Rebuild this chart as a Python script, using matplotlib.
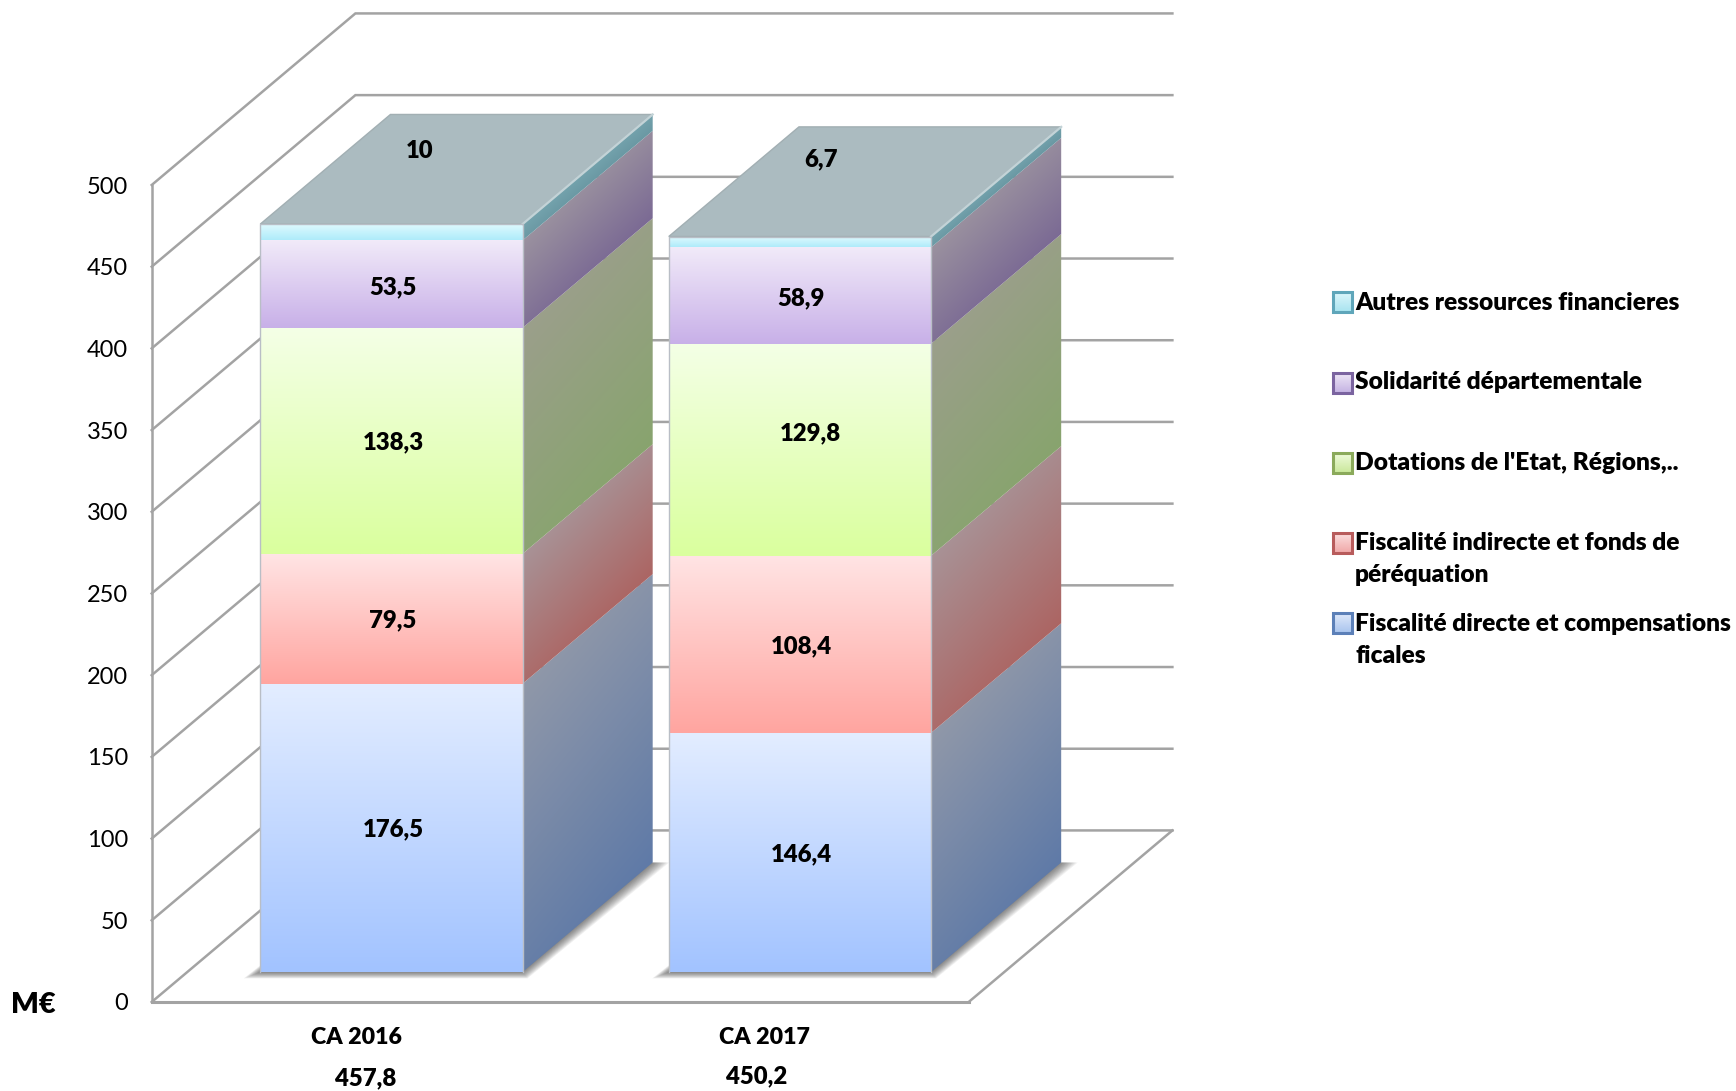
import numpy as np
import matplotlib
matplotlib.use('Agg')
import matplotlib.pyplot as plt
from matplotlib.colors import to_rgb
from matplotlib.patches import Polygon, Rectangle
from matplotlib.transforms import Affine2D

plt.rcParams['font.family'] = ['Lato', 'DejaVu Sans']

# data
categories = ['CA 2016', 'CA 2017']
totals = ['457,8', '450,2']
fiscal_directe = [176.5, 146.4]
fiscal_indirecte = [79.5, 108.4]
dotations = [138.3, 129.8]
solidarite = [53.5, 58.9]
autres = [10, 6.7]
yticks = [0, 50, 100, 150, 200, 250, 300, 350, 400, 450, 500]
legend_labels = ['Autres ressources financieres', 'Solidarité départementale',
                 "Dotations de l'Etat, Régions,..",
                 'Fiscalité indirecte et fonds de\npéréquation',
                 'Fiscalité directe et compensations\nficales']

# front light, front strong, side light, side strong
blue = ['#E3EDFF', '#A2C3FF', '#9098A9', '#5F7AA7']
red = ['#FFE4E4', '#FFA5A0', '#A89296', '#AC6563']
green = ['#F4FFE6', '#DAFF9E', '#9B9F8B', '#88A46E']
purple = ['#F1EAF9', '#C8B0E8', '#9A919F', '#7B6A94']
cyan = ['#E2FBFF', '#AEEBFA', '#74A3AD', '#6A98A3']
series = [fiscal_directe, fiscal_indirecte, dotations, solidarite, autres]
colors = [blue, red, green, purple, cyan]
legend_edges = ['#5FA6BA', '#7B64A0', '#8BAA5B', '#B85C5C', '#5C80B8']
legend_fill = [('#DDF6FB', '#A8E4F0'), ('#EDE6F6', '#C4B2E2'), ('#EFFADB', '#C9E89A'),
               ('#FBDEDE', '#F0A8A8'), ('#DFE9FA', '#A9C4EE')]

W, H = 1736, 1091
x0, y0, ytop = 151.7, 1002, 13
px_per_unit = 1.634
floor_w = 817
depth_x = 203.7
depth_v = 105.0
slot = floor_w / 2
bar_w = 0.642 * slot
d_front, d_back = 0.174, 0.813

fig = plt.figure(figsize=(W / 100, H / 100), dpi=100)
ax = fig.add_axes([x0 / W, (H - y0) / H, (1172 - x0) / W, (y0 - ytop) / H])
ax.patch.set_visible(False)
pix = Affine2D().scale(1, -1).translate(0, H)
grid_col = '#A3A3A3'
bold = 800


def pt(x, v, d):
    return (x + d * depth_x, v + d * depth_v)


def gradient(c1, c2, t):
    c1, c2 = np.array(to_rgb(c1)), np.array(to_rgb(c2))
    return c1 + (c2 - c1) * t[..., None]


def fill_image(poly, img, zorder):
    poly = np.array(poly)
    im = ax.imshow(img, extent=(poly[:, 0].min(), poly[:, 0].max(), poly[:, 1].min(), poly[:, 1].max()),
                   origin='upper', aspect='auto', interpolation='bilinear', zorder=zorder)
    im.set_clip_path(Polygon(poly, closed=True, transform=ax.transData))
    im.set_clip_on(True)


# walls and floor
for v in yticks:
    a, b, c = pt(0, v, 0), pt(0, v, 1), pt(floor_w, v, 1)
    ax.plot([a[0], b[0], c[0]], [a[1], b[1], c[1]], color=grid_col, lw=1.8, clip_on=False, zorder=1,
            solid_joinstyle='miter')
a, b = pt(floor_w, 0, 0), pt(floor_w, 0, 1)
ax.plot([a[0], b[0]], [a[1], b[1]], color=grid_col, lw=1.8, clip_on=False, zorder=1)

# bars
for i, cat in enumerate(categories):
    left = (i + 0.179) * slot
    right = left + bar_w

    # soft shadow under the bar
    for k in range(12):
        g = 1.5 * k
        foot = [pt(left - g, -g * 0.38 / px_per_unit, d_front),
                pt(right + g * 0.3, -g * 0.38 / px_per_unit, d_front),
                pt(right + g, 0, d_back), pt(left, 0, d_back)]
        ax.add_patch(Polygon(foot, closed=True, fc='#303030', ec='none', alpha=0.065, zorder=2, clip_on=False))

    base = 0
    for vals, col in zip(series, colors):
        top = base + vals[i]
        # side face, shaded across the band
        side = [pt(right, base, d_front), pt(right, base, d_back), pt(right, top, d_back), pt(right, top, d_front)]
        side_arr = np.array(side)
        u, vv = np.meshgrid(np.linspace(0, 1, 120),
                            np.linspace(side_arr[:, 1].max(), side_arr[:, 1].min(), 200))
        local = (vv - side_arr[0, 1] - u * (d_back - d_front) * depth_v) / (top - base)
        fill_image(side, gradient(col[2], col[3], np.clip(0.85 * (1 - local) + 0.15 * u, 0, 1)), 3)
        # front face
        front = [pt(left, base, d_front), pt(right, base, d_front), pt(right, top, d_front), pt(left, top, d_front)]
        fill_image(front, gradient(col[0], col[1], np.linspace(0, 1, 80).reshape(-1, 1)), 4)
        base = top

    # top of the stack
    roof = [pt(left, base, d_front), pt(right, base, d_front), pt(right, base, d_back), pt(left, base, d_back)]
    ax.add_patch(Polygon(roof, closed=True, fc='#ABBBC0', ec='#A2AFB3', lw=1, zorder=5, clip_on=False))
    ax.plot(*zip(pt(right, base, d_front), pt(right, base, d_back)), color='#C3D3D7', lw=1.6, zorder=6, clip_on=False)
    outline = [pt(left, 0, d_front), pt(left, base, d_front), pt(right, base, d_front), pt(right, 0, d_front)]
    ax.plot(*zip(*outline), color='#B9BEC6', lw=1, zorder=6, clip_on=False)

# value labels, moved by hand in the original
label_shift = [[(1.5, -1.5), (1.5, -1.5), (1.5, -1.5), (1.5, -3), (28, 81)],
               [(1.5, -1.5), (1.5, -1.5), (10, 16.5), (1.5, -3), (21, 83)]]
for i in range(len(categories)):
    left = (i + 0.179) * slot
    base = 0
    for j, vals in enumerate(series):
        dx, dy = label_shift[i][j]
        cx, cv = pt(left + bar_w / 2 + dx, base + vals[i] / 2 + dy / px_per_unit, d_front)
        ax.text(cx, cv, f'{vals[i]:g}'.replace('.', ','), ha='center', va='center', fontsize=17.2,
                fontweight=bold, zorder=8, clip_on=False)
        base += vals[i]

# axes
for name in ['top', 'right']:
    ax.spines[name].set_visible(False)
ax.spines['left'].set_color(grid_col)
ax.spines['left'].set_linewidth(1.8)
ax.spines['left'].set_bounds(0, 500)
ax.spines['bottom'].set_color(grid_col)
ax.spines['bottom'].set_linewidth(2.2)
ax.spines['bottom'].set_bounds(0, floor_w)
ax.set_xlim(0, 1172 - x0)
ax.set_ylim(0, (y0 - ytop) / px_per_unit)
ax.set_yticks(yticks)
ax.set_yticklabels([str(v) for v in yticks], fontsize=17, va='center_baseline')
ax.set_xticks([slot * (i + 0.5) for i in range(len(categories))])
ax.set_xticklabels(categories, fontsize=16.7, fontweight=bold)
ax.tick_params(axis='y', length=0, pad=17)
ax.tick_params(axis='x', length=0, pad=18)

# texts outside the plot
ax.text(33.5, 1005, 'M€', transform=pix, ha='center', va='center', fontsize=21, fontweight=bold)
total_pos = [(366, 1078), (757, 1076)]
for t, p in zip(totals, total_pos):
    ax.text(p[0], p[1], t, transform=pix, ha='center', va='center', fontsize=17.2, fontweight=bold)

# legend
legend_y = [302, 383, 463, 543, 623]
text_shift = [-10, -12, -11, -11, -10]
for lab, y, edge, fill, ts in zip(legend_labels, legend_y, legend_edges, legend_fill, text_shift):
    im = ax.imshow(gradient(fill[0], fill[1], np.linspace(0, 1, 30).reshape(-1, 1)),
                   extent=(1333, 1352, y + 10, y - 10), origin='upper', aspect='auto',
                   transform=pix, zorder=8, clip_on=False)
    ax.add_patch(Rectangle((1333, y - 10), 19, 20, fc='none', ec=edge, lw=2.2, transform=pix, zorder=9, clip_on=False))
    ax.text(1355, y + ts, lab, transform=pix, ha='left', va='top', fontsize=17.65, fontweight=bold,
            linespacing=1.55, clip_on=False)

# imshow touches the limits
ax.set_xlim(0, 1172 - x0)
ax.set_ylim(0, (y0 - ytop) / px_per_unit)

fig.savefig('out.png', dpi=100)
